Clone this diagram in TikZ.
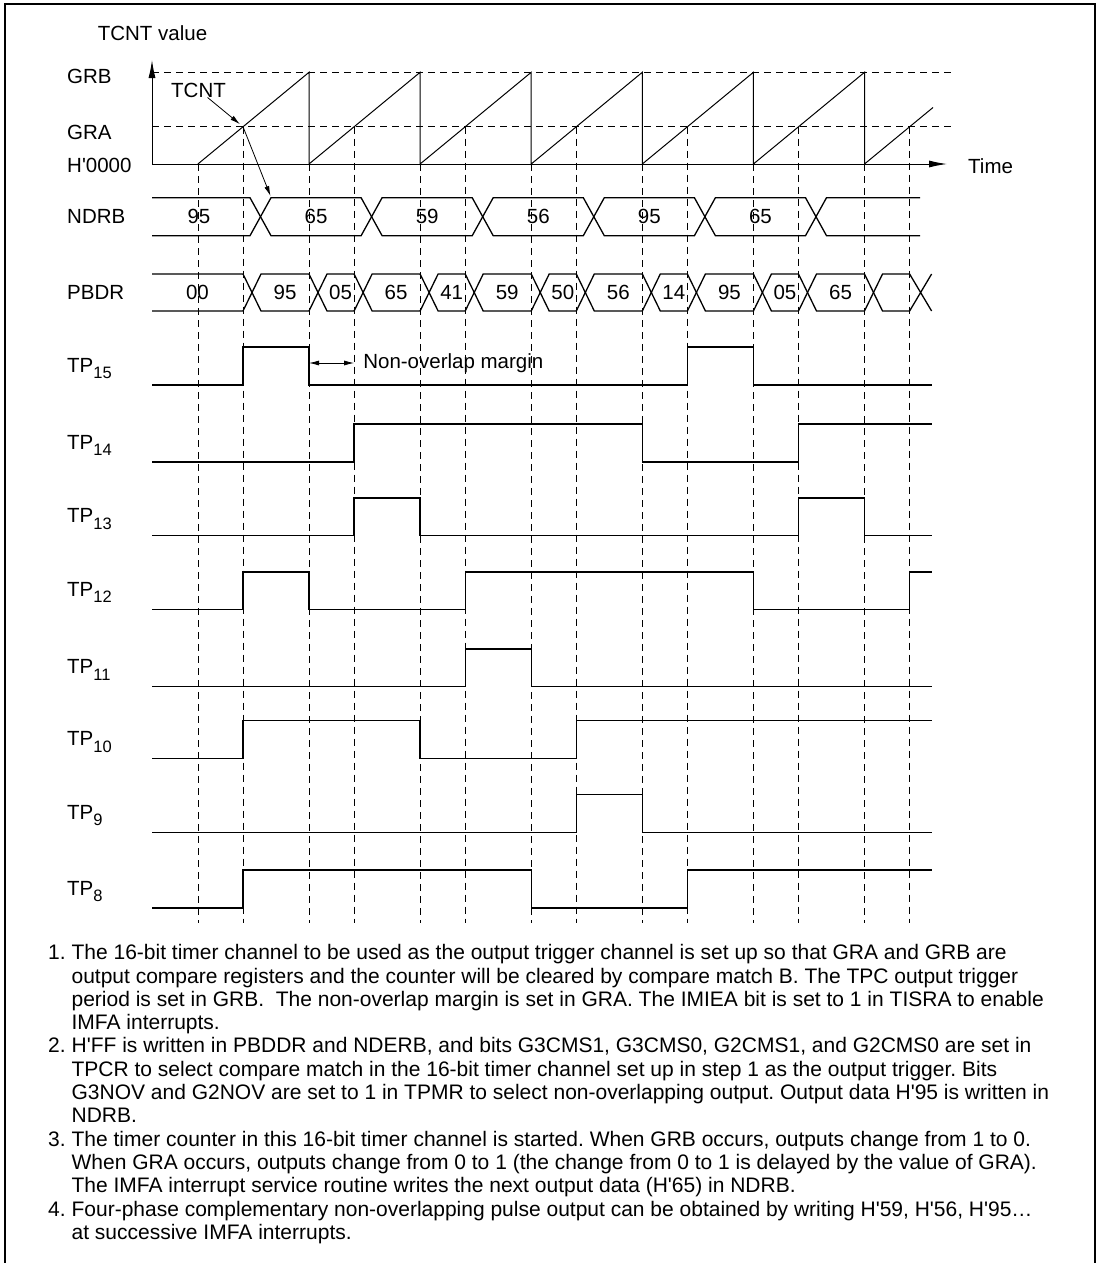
\documentclass[tikz,border=0pt]{standalone}
\usepackage{fontspec}
\setmainfont{Liberation Sans}
\usetikzlibrary{positioning,arrows.meta}
\newcommand{\hq}{\textquotesingle}
\newcommand{\tpsub}[1]{\raisebox{-6.5pt}{\fontsize{16.5}{18}\selectfont #1}}

\begin{document}
\frenchspacing
\begin{tikzpicture}[x=1pt, y=-1pt, >=Latex,
  every node/.style={font=\fontsize{20.5}{23.8}\selectfont, inner sep=0pt},
  sig/.style={line width=1.3pt},
  grid/.style={line width=0.8pt, dash pattern=on 7pt off 5pt},
  axis/.style={line width=1pt, -{Latex[length=18pt,width=7pt]}},
  lbl/.style={anchor=west},
  tplbl/.style={anchor=base west},
  note/.style={anchor=north west, align=left, font=\fontsize{21}{23.3}\selectfont}]
  \useasboundingbox (0,0) rectangle (1100,1263);
  \fill[white] (0,0) rectangle (1100,1263);
  \draw[line width=1.3pt] (5,1263) -- (5,4) -- (1095,4) -- (1095,1263);

  % compare levels and guide lines
  \draw[grid] (152,72.3) -- (954,72.3);
  \draw[grid] (152,126.7) -- (954,126.7);
  \draw[grid] (197.9,164) -- (197.9,923);
  \foreach \k in {0,...,5}
    \draw[grid] ({309+111.1*\k},164) -- ({309+111.1*\k},923);
  \foreach \k in {0,...,6}
    \draw[grid] ({243+111.1*\k},126.7) -- ({243+111.1*\k},923);

  % axes and counter
  \coordinate (orig) at (152,164);
  \coordinate (tend) at (947,164);
  \coordinate (yend) at (152,60);
  \draw[axis] (orig) -- (tend);
  \draw[axis] (orig) -- (yend);
  \draw[line width=1pt] (197.9,164)
    \foreach \k in {0,...,5} { -- ({309+111.1*\k},72.3) -- ({309+111.1*\k},164) }
    -- (933,107.5);

  \node (ylabel) at (152.5,33) {TCNT value};
  \node[right=21pt of tend, yshift=-2pt] (time) {Time};
  \node[lbl] (grb) at (67,76) {GRB};
  \node[lbl] (gra) at (67,132.7) {GRA};
  \node[lbl] (zero) at (67,165) {H\hq 0000};
  \node (tcnt) at (198.5,90) {TCNT};
  \coordinate (crossA) at (243,126.7);
  \coordinate (ndrbchg) at (270.5,196);
  \draw[-{Latex[length=10pt,width=5pt]}, line width=0.8pt, shorten >=4pt] (tcnt) -- (crossA);
  \draw[-{Latex[length=10pt,width=5pt]}, line width=0.8pt] (crossA) -- (ndrbchg);

  % NDRB
  \node[lbl] (ndrb) at (67,216.7) {NDRB};
  \draw[sig] (152,197.7) -- (250,197.7) -- (260.5,216.7) -- (250,235.7) -- (152,235.7);
  \node (ndv0) at (199,216.7) {95};
  \foreach \a/\b/\v [count=\i] in {260.5/371.6/65, 371.6/482.7/59, 482.7/593.8/56,
      593.8/704.9/95, 704.9/816/65} {
    \draw[sig] (\a,216.7) -- ({\a+10.5},197.7) -- ({\b-10.5},197.7) -- (\b,216.7)
      -- ({\b-10.5},235.7) -- ({\a+10.5},235.7) -- cycle;
    \node (ndv\i) at ({(\a+\b)/2},216.7) {\v};
  }
  \draw[sig] (920,197.7) -- (826.5,197.7) -- (816,216.7) -- (826.5,235.7) -- (920,235.7);

  % PBDR
  \node[lbl] (pbdr) at (67,292.5) {PBDR};
  \draw[sig] (152,274) -- (243,274) -- (252,292.5) -- (243,311) -- (152,311);
  \node (pbv0) at (197.5,292.5) {00};
  \foreach \a/\b/\v [count=\i] in {252/318/95, 318/363.1/05, 363.1/429.1/65,
      429.1/474.2/41, 474.2/540.2/59, 540.2/585.3/50, 585.3/651.3/56,
      651.3/696.4/14, 696.4/762.4/95, 762.4/807.5/05, 807.5/873.5/65} {
    \draw[sig] (\a,292.5) -- ({\a+9},274) -- ({\b-9},274) -- (\b,292.5)
      -- ({\b-9},311) -- ({\a+9},311) -- cycle;
    \node (pbv\i) at ({(\a+\b)/2},292.5) {\v};
  }
  \draw[sig] (931.6,311) -- (909.6,274) -- (882.5,274) -- (873.5,292.5)
    -- (882.5,311) -- (909.6,311) -- (931.6,274);

  % non-overlap margin
  \coordinate (marl) at (309,363);
  \coordinate (marr) at (354.1,363);
  \draw[{Latex[length=10pt,width=5pt]}-{Latex[length=10pt,width=5pt]}, line width=0.8pt] (marl) -- (marr);
  \node[right=9pt of marr] (margin) {Non-overlap margin};

  % pulse outputs TP15..TP8
  \node[tplbl] (tp15) at (67,372) {TP\tpsub{15}};
  \draw[sig] (152,385) -| (243,347) -| (309,385) -| (687.4,347) -| (753.4,385) -- (932,385);
  \node[tplbl] (tp14) at (67,449) {TP\tpsub{14}};
  \draw[sig] (152,462) -| (354.1,424) -| (642.3,462) -| (798.5,424) -- (932,424);
  \node[tplbl] (tp13) at (67,522.7) {TP\tpsub{13}};
  \draw[sig] (152,535.7) -| (354.1,498) -| (420.1,535.7) -| (798.5,498) -| (864.5,535.7) -- (932,535.7);
  \node[tplbl] (tp12) at (67,596.3) {TP\tpsub{12}};
  \draw[sig] (152,609.3) -| (243,572) -| (309,609.3) -| (465.2,572) -| (753.4,609.3) -| (909.6,572) -- (932,572);
  \node[tplbl] (tp11) at (67,673.7) {TP\tpsub{11}};
  \draw[sig] (152,686.7) -| (465.2,649) -| (531.2,686.7) -- (932,686.7);
  \node[tplbl] (tp10) at (67,745.7) {TP\tpsub{10}};
  \draw[sig] (152,758.7) -| (243,720.7) -| (420.1,758.7) -| (576.3,720.7) -- (932,720.7);
  \node[tplbl] (tp9) at (67,819.3) {TP\tpsub{9}};
  \draw[sig] (152,832.3) -| (576.3,794.3) -| (642.3,832.3) -- (932,832.3);
  \node[tplbl] (tp8) at (67,895) {TP\tpsub{8}};
  \draw[sig] (152,908) -| (243,870) -| (531.2,908) -| (687.4,870) -- (932,870);

  % notes
  \node[note] (num1) at (48,943.2) {\strut 1.};
  \node[note] (note1) at (71.4,943.2) {\strut The 16-bit timer channel to be used as the output trigger channel is set up so that GRA and GRB are\\
    output compare registers and the counter will be cleared by compare match B. The TPC output trigger\\
    period is set in GRB.\ \ The non-overlap margin is set in GRA. The IMIEA bit is set to 1 in TISRA to enable\\
    IMFA interrupts.};
  \node[note] (num2) at (48,1036.4) {\strut 2.};
  \node[note] (note2) at (71.4,1036.4) {\strut H\hq FF is written in PBDDR and NDERB, and bits G3CMS1, G3CMS0, G2CMS1, and G2CMS0 are set in\\
    TPCR to select compare match in the 16-bit timer channel set up in step 1 as the output trigger. Bits\\
    G3NOV and G2NOV are set to 1 in TPMR to select non-overlapping output. Output data H\hq 95 is written in\\
    NDRB.};
  \node[note] (num3) at (48,1129.6) {\strut 3.};
  \node[note] (note3) at (71.4,1129.6) {\strut The timer counter in this 16-bit timer channel is started. When GRB occurs, outputs change from 1 to 0.\\
    When GRA occurs, outputs change from 0 to 1 (the change from 0 to 1 is delayed by the value of GRA).\\
    The IMFA interrupt service routine writes the next output data (H\hq 65) in NDRB.};
  \node[note] (num4) at (48,1199.5) {\strut 4.};
  \node[note] (note4) at (71.4,1199.5) {\strut Four-phase complementary non-overlapping pulse output can be obtained by writing H\hq 59, H\hq 56, H\hq 95…\\
    at successive IMFA interrupts.};
\end{tikzpicture}
\end{document}
